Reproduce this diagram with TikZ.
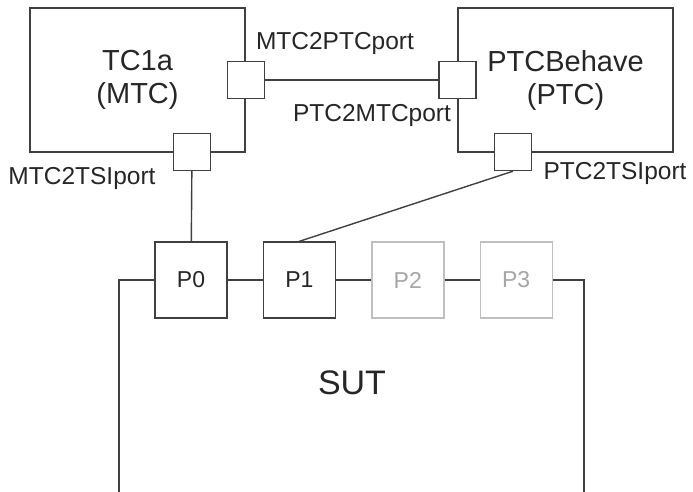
\documentclass[tikz,border=0pt]{standalone}
\usepackage{fontspec}
\setmainfont{Liberation Sans}
\usepackage{tikz}
\usetikzlibrary{positioning}

\begin{document}
\begin{tikzpicture}[x=1pt, y=-1pt, node distance=35pt, line width=1.4pt, draw=black!75,
  every node/.style={align=center, inner sep=0pt, text=black!85},
  tc/.style={draw=black!75, minimum width=215pt, minimum height=144pt, font=\fontsize{29}{33}\selectfont},
  port/.style={draw=black!75, fill=white, minimum size=37pt},
  sutport/.style={draw=black!75, fill=white, minimum width=72pt, minimum height=76pt, font=\fontsize{23}{26}\selectfont},
  off/.style={draw=black!25, text=black!35},
  lbl/.style={font=\fontsize{24.5}{28}\selectfont}]
\useasboundingbox (0,0) rectangle (693,492);
\node[tc] (mtc) at (137.5,80) {TC1a\\(MTC)};
\node[tc] (ptc) at (565.5,80) {PTCBehave\\(PTC)};
\node[port] (mp) at (mtc.east) {};
\node[port] (pm) at (ptc.west) {};
\node[port] (mt) at (192,152) {};
\node[port] (pt) at (513,152) {};
\node[lbl] (mpl) at (335,43) {MTC2PTCport};
\node[lbl] (pml) at (372,115) {PTC2MTCport};
\node[lbl] (mtl) at (82,178) {MTC2TSIport};
\node[lbl] (ptl) at (615,173) {PTC2TSIport};
\node[sutport] (p0) at (191,280) {P0};
\node[sutport, right=of p0] (p1) {P1};
\node[sutport, off, right=of p1] (p2) {P2};
\node[sutport, off, right=of p2] (p3) {P3};
\node[font=\fontsize{34}{38}\selectfont] (sut) at (352,383) {SUT};
\coordinate (sl) at (119,280); \coordinate (slb) at (119,492);
\coordinate (sr) at (584,280); \coordinate (srb) at (584,492);
\draw (mp) -- (pm); \draw (mt) -- (p0); \draw (pt.south) -- (p1.north);
\draw (p0) -- (p1); \draw (p1) -- (p2); \draw (p2) -- (p3);
\draw (p0.west) -- (sl) -- (slb); \draw (p3.east) -- (sr) -- (srb);
\end{tikzpicture}
\end{document}
